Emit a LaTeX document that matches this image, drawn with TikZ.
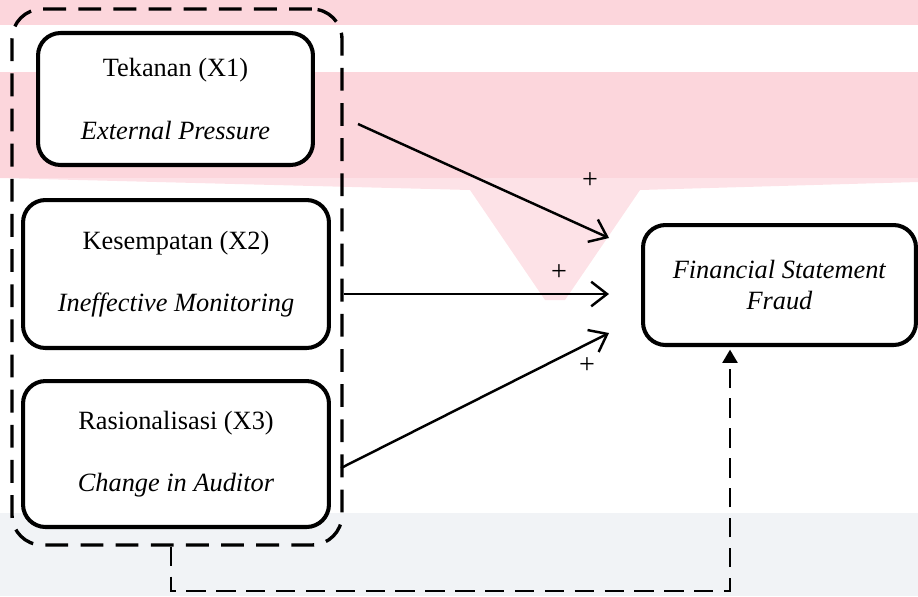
\documentclass[tikz,border=0pt]{standalone}
\usepackage{fontspec}
\setmainfont{Liberation Serif}
\usetikzlibrary{arrows.meta}
\definecolor{wmpink}{RGB}{252,214,220}
\definecolor{wmgray}{RGB}{241,243,246}
\tikzset{
  varbox/.style={draw, line width=2.3pt, rounded corners=0.45cm, fill=white, align=center,
    font=\fontsize{15}{18}\selectfont, inner sep=0pt},
  grpbox/.style={draw, line width=1.9pt, dash pattern=on 13pt off 7pt, rounded corners=0.6cm},
  effect/.style={line width=1.4pt, -{Straight Barb[length=9pt,width=14pt,line width=1.4pt]}},
  feedback/.style={line width=1.3pt, dash pattern=on 11pt off 6pt, -{Triangle[length=7.5pt,width=8.5pt]}, shorten >=1.5pt},
  sign/.style={font=\fontsize{16}{18}\selectfont, inner sep=0pt}
}

\begin{document}
\begin{tikzpicture}[x=0.02cm,y=-0.02cm]
    \useasboundingbox (0,0) rectangle (918,596);
    \fill[wmpink] (0,0) rectangle (918,25);
    \fill[wmpink] (0,72) rectangle (918,178);
    \fill[wmpink!70] (0,178) -- (470,190) -- (545,300) -- (565,300) -- (640,190) -- (918,182) -- (918,178) -- cycle;
    \fill[wmgray] (0,513) rectangle (918,596);

    \node[grpbox, minimum width=6.6cm, minimum height=10.72cm] (grp) at (177,277) {};
    \node[varbox, minimum width=5.5cm, minimum height=2.64cm] (x1) at (175.5,99) {Tekanan (X1)\\[0.62cm]\textit{External Pressure}};
    \node[varbox, minimum width=6.12cm, minimum height=2.96cm] (x2) at (176,274) {Kesempatan (X2)\\[0.62cm]\textit{Ineffective Monitoring}};
    \node[varbox, minimum width=6.12cm, minimum height=2.92cm] (x3) at (176,454) {Rasionalisasi (X3)\\[0.62cm]\textit{Change in Auditor}};
    \node[varbox, minimum width=5.46cm, minimum height=2.4cm] (fsf) at (779.5,285) {\textit{Financial Statement}\\\textit{Fraud}};

    \coordinate (out1) at (358,124);
    \coordinate (in1) at (609,238);
    \coordinate (in2) at (609,294);
    \coordinate (out3) at (341,468);
    \coordinate (in3) at (609,333);
    \draw[effect] (out1) -- (in1);
    \draw[effect] (grp.east |- in2) -- (in2);
    \draw[effect] (out3) -- (in3);

    \node[sign] (p1) at (590,181) {+};
    \node[sign] (p2) at (559,273) {+};
    \node[sign] (p3) at (587,366) {+};

    \coordinate (bend) at (730,591);
    \draw[feedback] ([xshift=-0.12cm]grp.south) |- (bend) -- (bend |- fsf.south);
\end{tikzpicture}
\end{document}
